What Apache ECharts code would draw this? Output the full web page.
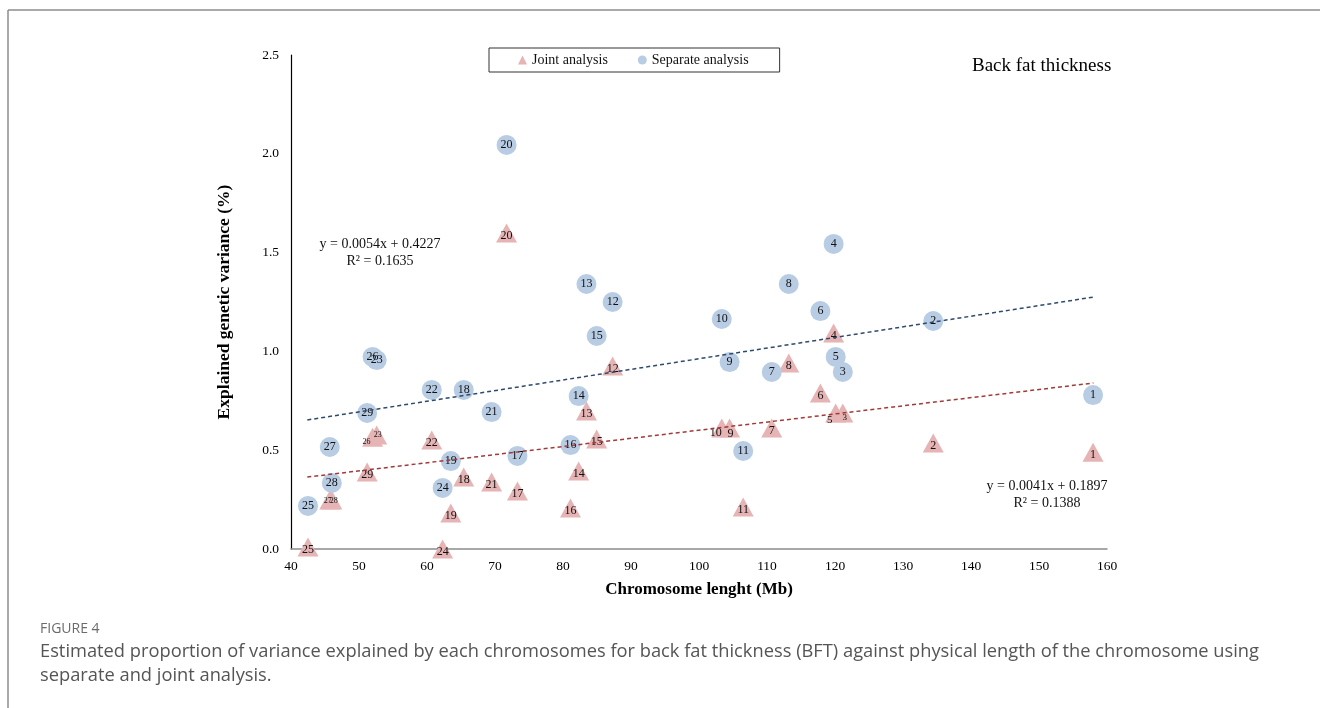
<!DOCTYPE html>
<html>
<head>
<meta charset="utf-8">
<script src="https://cdn.jsdelivr.net/npm/echarts@6/dist/echarts.min.js"></script>
<style>
html,body{margin:0;padding:0;background:#fff;}
#c{width:1320px;height:708px;}
</style>
</head>
<body>
<div id="c"></div>
<script>
// ---- data ----
const chromosomes = ['1','2','3','4','5','6','7','8','9','10','11','12','13','14','15','16','17','18','19','20','21','22','23','24','25','26','27','28','29'];
const chromLength = [157.95,134.45,121.15,119.8,120.1,117.85,110.7,113.2,104.5,103.35,106.5,87.3,83.45,82.3,84.95,81.1,73.3,65.4,63.5,71.7,69.5,60.7,52.6,62.3,42.5,52.0,45.7,46.0,51.2];
const separateVar = [0.779,1.154,0.896,1.544,0.972,1.204,0.896,1.341,0.946,1.164,0.496,1.250,1.341,0.774,1.078,0.526,0.471,0.805,0.445,2.045,0.693,0.805,0.956,0.309,0.218,0.972,0.516,0.334,0.688];
const jointVar    = [0.490,0.536,0.688,1.093,0.688,0.789,0.612,0.941,0.612,0.612,0.213,0.926,0.698,0.395,0.557,0.207,0.294,0.364,0.182,1.599,0.339,0.552,0.577,0.000,0.010,0.565,0.248,0.248,0.390];
const separateTrend = [[42.4,0.653],[158.0,1.275]];
const jointTrend    = [[42.4,0.364],[158.0,0.840]];
const xTicks = {min:40,max:160,step:10};
const yTicks = {min:0,max:2.5,step:0.5};

// ---- label style tweaks (presentation only) ----
const jointLabelTweaks = {
  '3': {offset:[2,5], fontSize:9},
  '5': {offset:[-6,7], fontSize:11},
  '10': {offset:[-6,5]},
  '9': {offset:[1,6]},
  '23': {offset:[1,0], fontSize:8},
  '26': {offset:[-6,5], fontSize:8},
  '27': {offset:[-2,1], fontSize:8},
  '28': {offset:[2,1], fontSize:8}
};

const SERIF = '"Liberation Serif", "DejaVu Serif", serif';

const jointData = chromosomes.map((c,i)=>{
  const t = jointLabelTweaks[c] || {};
  return {value:[chromLength[i], jointVar[i]], name:c,
    label:{offset:t.offset || [0,3], fontSize:t.fontSize || 12}};
});
const sepData = chromosomes.map((c,i)=>({value:[chromLength[i], separateVar[i]], name:c}));

const chart = echarts.init(document.getElementById('c'), null, {renderer:'canvas'});
chart.setOption({
  animation:false,
  backgroundColor:'#fff',
  textStyle:{fontFamily:SERIF},
  grid:{left:291, right:213, top:55, bottom:159, containLabel:false},
  legend:{
    data:[{name:'Joint analysis', icon:'triangle'},{name:'Separate analysis', icon:'circle'}],
    left:489, top:48,
    itemWidth:9, itemHeight:9, itemGap:30,
    padding:[5,31,5,29],
    borderColor:'#333', borderWidth:1,
    textStyle:{fontFamily:SERIF, fontSize:14, color:'#111'}
  },
  title:{text:'Back fat thickness', left:967, top:52,
    textStyle:{fontFamily:SERIF, fontSize:19, fontWeight:'normal', color:'#000'}},
  xAxis:{type:'value', min:xTicks.min, max:xTicks.max, interval:xTicks.step,
    name:'Chromosome lenght (Mb)', nameLocation:'middle', nameGap:32,
    nameTextStyle:{fontFamily:SERIF, fontSize:17, fontWeight:'bold', color:'#000'},
    axisLine:{show:true, onZero:false, lineStyle:{color:'#8c8c8c', width:1.5}},
    axisTick:{show:false}, splitLine:{show:false},
    axisLabel:{fontFamily:SERIF, fontSize:13.5, color:'#000', margin:10}},
  yAxis:{type:'value', min:yTicks.min, max:yTicks.max, interval:yTicks.step,
    name:'Explained genetic variance (%)', nameLocation:'middle', nameGap:58,
    nameTextStyle:{fontFamily:SERIF, fontSize:17.5, fontWeight:'bold', color:'#000'},
    axisLine:{show:true, lineStyle:{color:'#000', width:1.2}},
    axisTick:{show:false}, splitLine:{show:false},
    axisLabel:{fontFamily:SERIF, fontSize:13.5, color:'#000', margin:12,
      formatter:v=>v.toFixed(1)}},
  series:[
    {name:'Joint analysis', type:'scatter', symbol:'triangle', symbolSize:[21,19],
     itemStyle:{color:'#e6b4b4', opacity:1}, z:2,
     label:{show:true, position:'inside', formatter:p=>p.name, color:'#111', fontFamily:SERIF, fontSize:12},
     data:jointData},
    {name:'Separate analysis', type:'scatter', symbol:'circle', symbolSize:20,
     itemStyle:{color:'#b8cce4', opacity:1}, z:3,
     label:{show:true, position:'inside', formatter:p=>p.name, color:'#111', fontFamily:SERIF, fontSize:12},
     data:sepData},
    {name:'Separate trend', type:'line', data:separateTrend, symbol:'none', z:4,
     lineStyle:{color:'#2e4a6d', width:1.5, type:[4,3]}, silent:true},
    {name:'Joint trend', type:'line', data:jointTrend, symbol:'none', z:4,
     lineStyle:{color:'#a33a3a', width:1.5, type:[4,3]}, silent:true}
  ],
  graphic:[
    {type:'line', shape:{x1:8, y1:10, x2:1320, y2:10}, style:{stroke:'#8c8c8c', lineWidth:1.5}},
    {type:'line', shape:{x1:8, y1:10, x2:8, y2:708}, style:{stroke:'#8c8c8c', lineWidth:1.5}},
    {type:'text', x:380, y:253, style:{text:'y = 0.0054x + 0.4227\nR² = 0.1635', align:'center', verticalAlign:'middle',
      font:'14px '+SERIF, fill:'#111', lineHeight:17}},
    {type:'text', x:1047, y:495, style:{text:'y = 0.0041x + 0.1897\nR² = 0.1388', align:'center', verticalAlign:'middle',
      font:'14px '+SERIF, fill:'#111', lineHeight:17}},
    {type:'text', x:40, y:629, style:{text:'FIGURE 4', verticalAlign:'middle',
      font:'14px "Open Sans", "Noto Sans", sans-serif', fill:'#6b6b6b'}},
    {type:'text', x:40, y:664, style:{text:'Estimated proportion of variance explained by each chromosomes for back fat thickness (BFT) against physical length of the chromosome using\nseparate and joint analysis.',
      verticalAlign:'middle', font:'18.3px "Open Sans", "Noto Sans", sans-serif', fill:'#555', lineHeight:24}}
  ]
});
</script>
</body>
</html>
